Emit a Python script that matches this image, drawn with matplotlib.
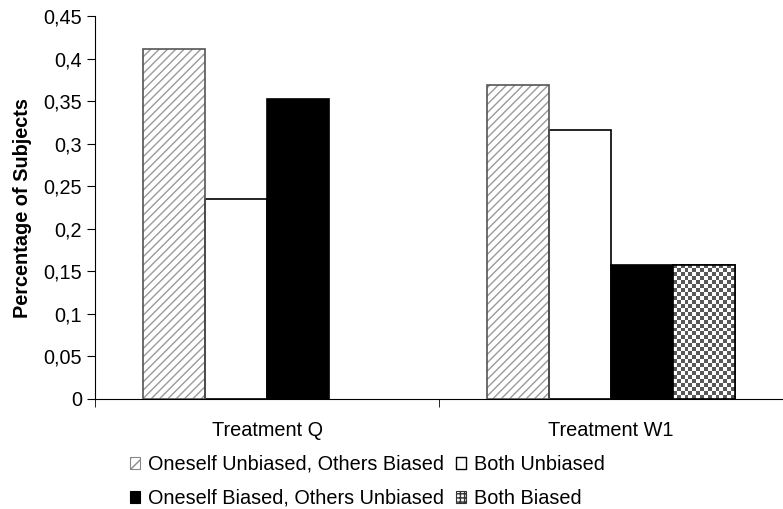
import numpy as np
import matplotlib.pyplot as plt
from matplotlib.patches import Patch

plt.rcParams['font.family'] = ['Liberation Sans', 'DejaVu Sans']
plt.rcParams['hatch.linewidth'] = 1.0

treatments = ['Treatment Q', 'Treatment W1']
series = ['Oneself Unbiased, Others Biased', 'Both Unbiased',
          'Oneself Biased, Others Unbiased', 'Both Biased']
q_vals = [7 / 17, 4 / 17, 6 / 17, 0.0]
w1_vals = [7 / 19, 6 / 19, 3 / 19, 3 / 19]
yticks = [0, 0.05, 0.1, 0.15, 0.2, 0.25, 0.3, 0.35, 0.4, 0.45]

vals = np.array([q_vals, w1_vals])  # rows: treatments, cols: series
FS = 14.3

fig = plt.figure(figsize=(7.83, 5.09), dpi=100)
ax = fig.add_axes([95 / 783, 1 - 399 / 509, 1 - 95 / 783, (399 - 16) / 509])

width = 0.18
x = np.arange(len(treatments))

for i in range(len(series)):
    pos = x - 2 * width + width / 2 + i * width
    v = vals[:, i]
    if i == 0:
        # light grey diagonal hatch, darker outline
        ax.bar(pos, v, width, facecolor='white', edgecolor='#9a9a9a',
               hatch='////', linewidth=0, zorder=2)
        ax.bar(pos, v, width, fill=False, edgecolor='#555555',
               linewidth=1.2, zorder=3)
    elif i == 1:
        ax.bar(pos, v, width, facecolor='white', edgecolor='black',
               linewidth=1.2, zorder=2)
    elif i == 2:
        ax.bar(pos, v, width, facecolor='black', edgecolor='black',
               linewidth=1.2, zorder=2)
    else:
        keep = v > 0
        bars = ax.bar(pos[keep], v[keep], width, facecolor='white',
                      edgecolor='black', linewidth=1.2, zorder=2)
        # checkerboard fill clipped to each bar
        for b in bars:
            h = b.get_height()
            nx = 16
            ny = int(round(nx * (h / 0.45 * 383) / 64))
            checker = (np.indices((ny, nx)).sum(axis=0) % 2)
            img = ax.imshow(checker, cmap='gray', vmin=-0.55, vmax=1.0,
                            extent=[b.get_x(), b.get_x() + b.get_width(), 0, h],
                            aspect='auto', interpolation='nearest', zorder=2)
            img.set_clip_path(b)
            ax.add_patch(plt.Rectangle((b.get_x(), 0), b.get_width(), h,
                                       fill=False, edgecolor='black',
                                       linewidth=1.2, zorder=3))

ax.set_xlim(-0.5, 1.5)
ax.set_ylim(0, 0.45)
ax.set_yticks(yticks)
ax.set_yticklabels([('%g' % t).replace('.', ',') for t in yticks], fontsize=FS)
ax.set_xticks(x)
ax.set_xticklabels(treatments, fontsize=FS)
ax.set_xticks([-0.5, 0.5, 1.5], minor=True)
ax.tick_params(axis='x', which='major', length=0, pad=16)
ax.tick_params(axis='x', which='minor', length=6, direction='out')
ax.tick_params(axis='y', length=6, direction='out', pad=3.5)
ax.set_ylabel('Percentage of Subjects', fontsize=FS, fontweight='bold', labelpad=8)

for s in ['top', 'right']:
    ax.spines[s].set_visible(False)

handles = [Patch(facecolor='white', edgecolor='#888888', hatch='///', linewidth=0.8),
           Patch(facecolor='white', edgecolor='black', linewidth=1.0),
           Patch(facecolor='black', edgecolor='black', linewidth=0.8),
           Patch(facecolor='white', edgecolor='#333333', hatch='++++', linewidth=0.8)]
order = [0, 2, 1, 3]
fig.legend([handles[k] for k in order], [series[k] for k in order],
           loc='upper left', bbox_to_anchor=(130 / 783, 1 - 455 / 509), ncol=2,
           frameon=False, fontsize=FS, handlelength=0.5, handleheight=0.5,
           handletextpad=0.4, columnspacing=0.6, labelspacing=0.75,
           borderpad=0, borderaxespad=0)

fig.savefig('out.png', dpi=100)
